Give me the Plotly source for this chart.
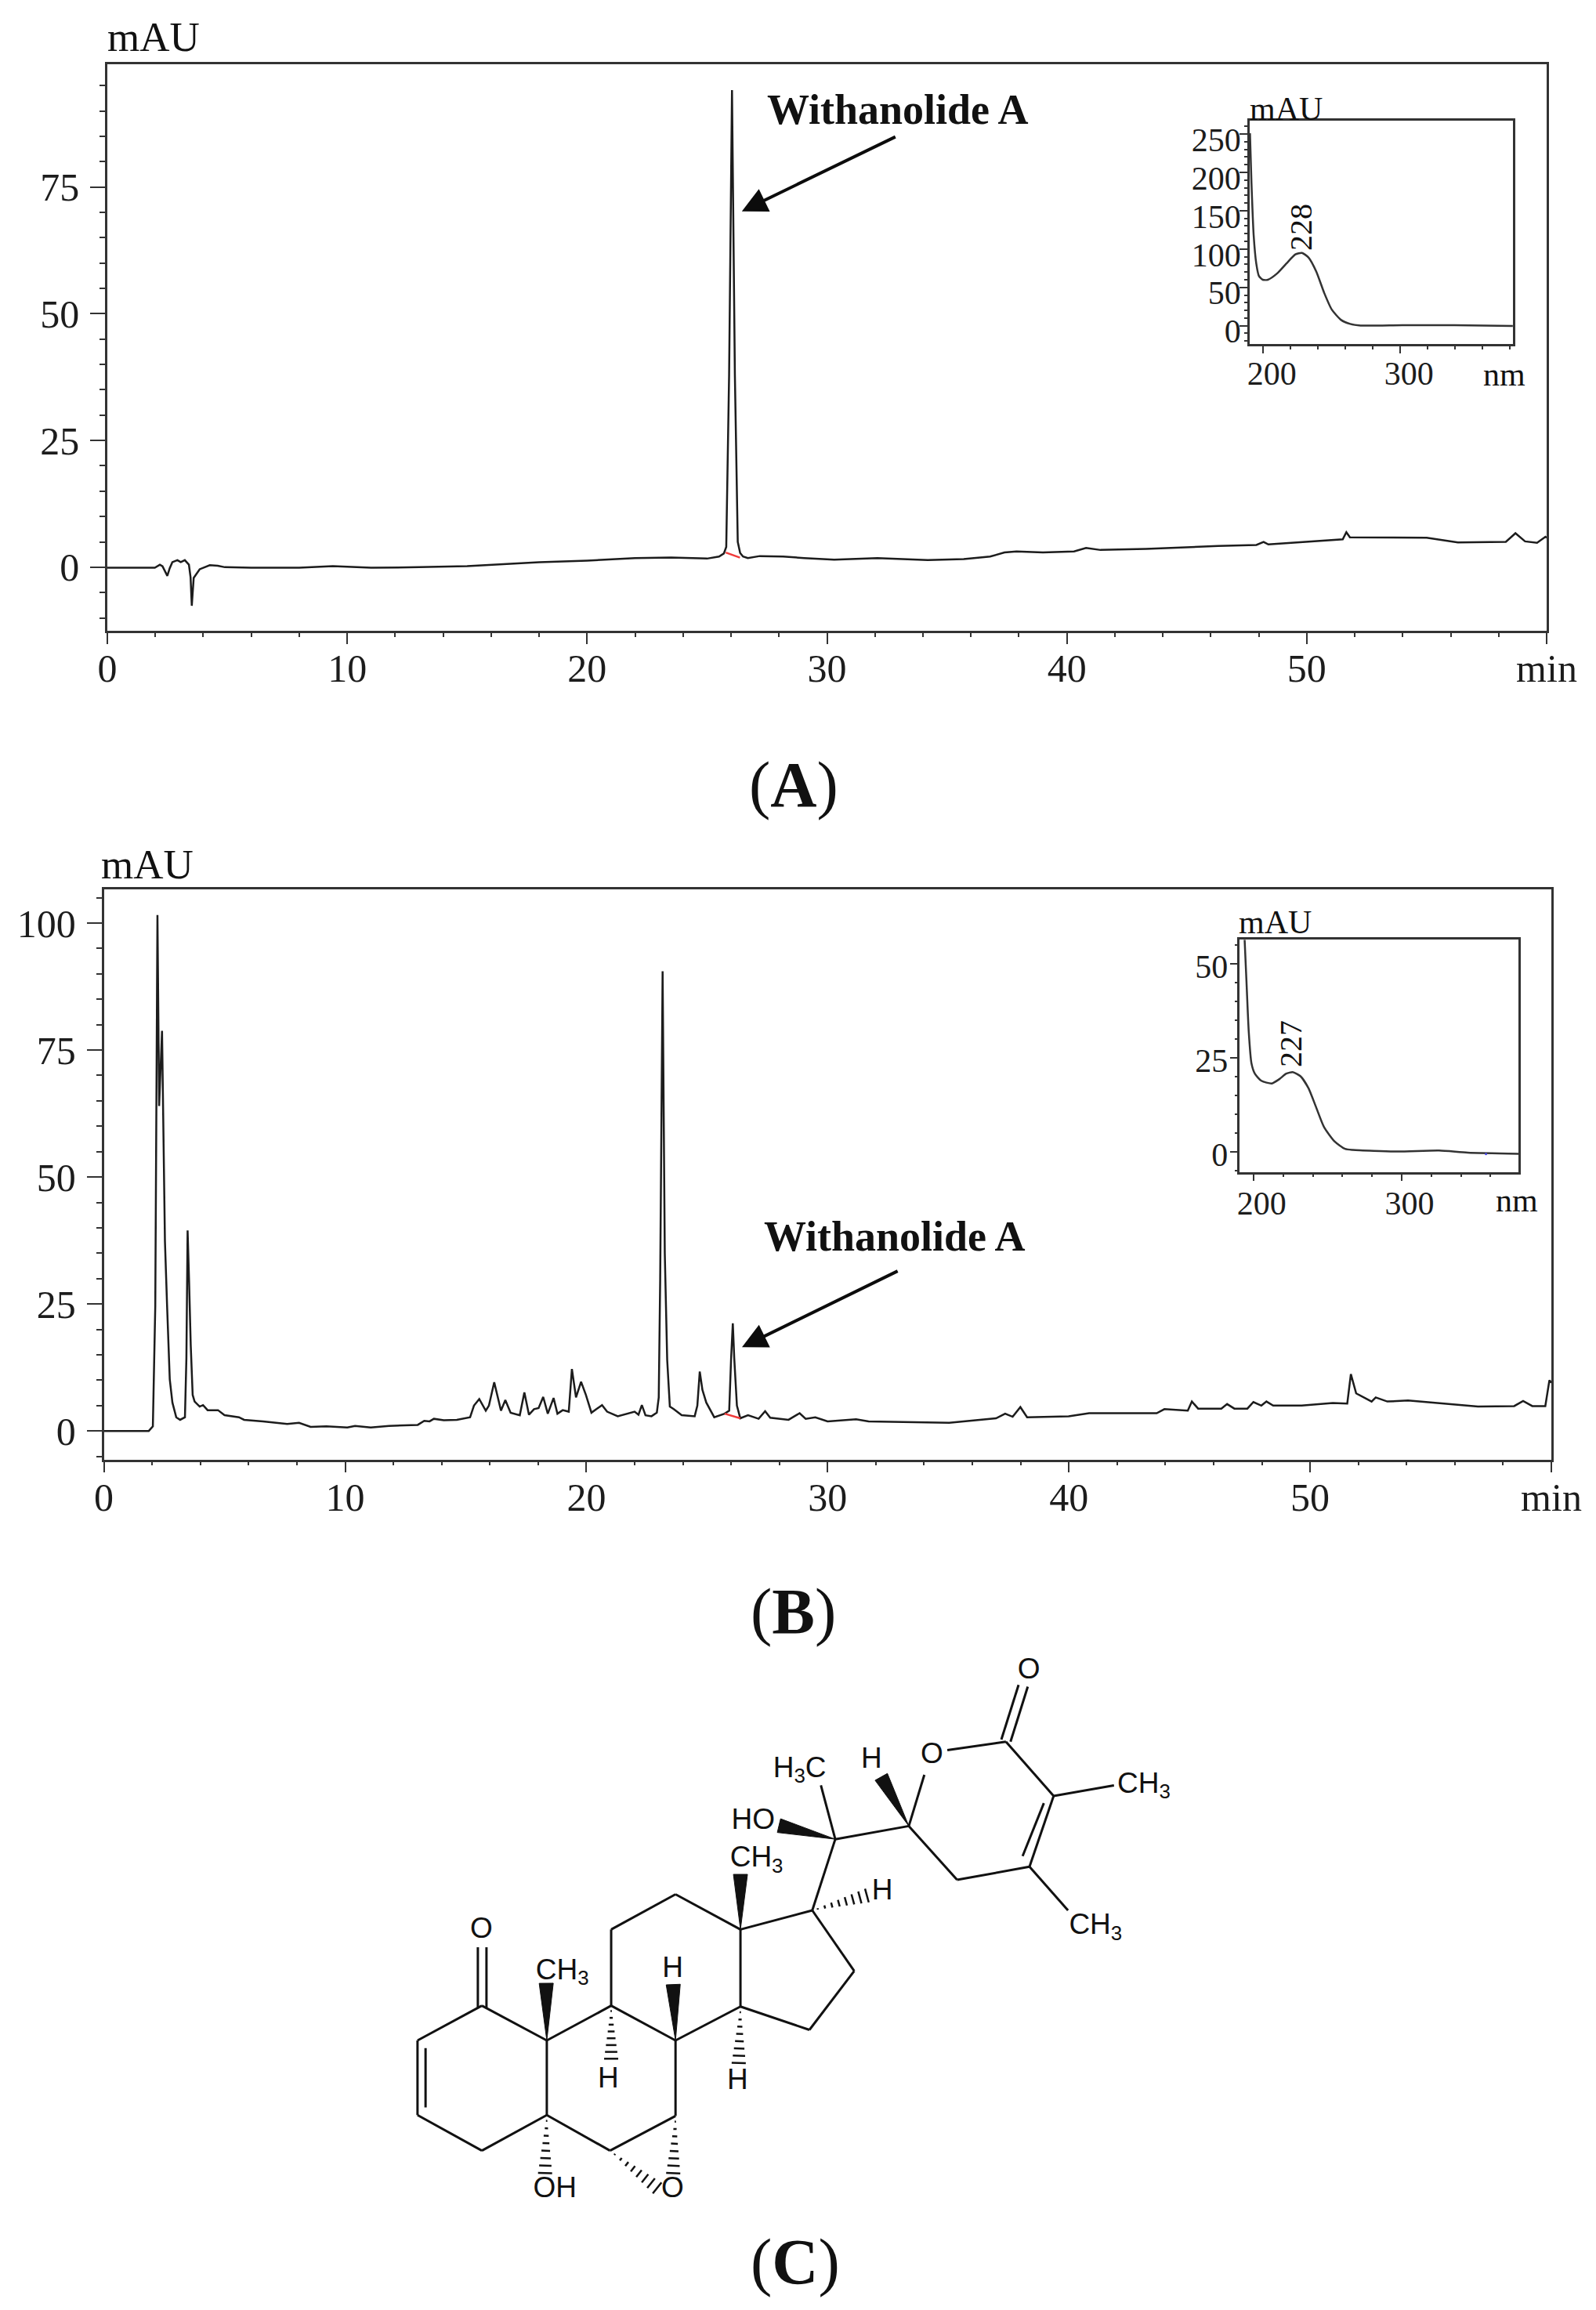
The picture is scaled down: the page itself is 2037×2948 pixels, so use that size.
import numpy as np
import plotly.graph_objects as go

W, H = 2037, 2948

# chromatogram A (standard), min / mAU
time_a = [0, 1.98, 2.19, 2.3, 2.5, 2.6, 2.71, 2.92, 3.06, 3.23, 3.4, 3.47, 3.52, 3.6, 3.85, 4.27, 4.6, 4.9,
          6, 8, 9.4, 11, 13, 15, 18, 20, 22, 23.5, 25, 25.5, 25.7, 25.8, 25.92, 26.04, 26.16, 26.28, 26.38, 26.5,
          26.7, 27.2, 28.17, 29.05, 30.3, 32.1, 34.2, 35.7, 36.8, 37.4, 37.9, 39, 40.3, 40.8, 41.4, 43.3,
          46.3, 47.9, 48.2, 48.4, 51.5, 51.65, 51.8, 53.9, 55, 56.3, 58.3, 58.7, 59.1, 59.6, 59.95, 60]
mau_a = [-0.1, -0.1, 0.5, 0.2, -1.7, -0.2, 1, 1.4, 1, 1.4, 0.5, -2, -7.6, -2.1, -0.4, 0.4, 0.3, 0,
         -0.1, -0.1, 0.2, -0.1, 0, 0.2, 1, 1.3, 1.8, 1.9, 1.7, 2.1, 2.7, 4, 38, 94.1, 38, 5, 2.8, 2.1,
         1.8, 2.2, 2.1, 1.8, 1.5, 1.8, 1.4, 1.6, 2.1, 2.9, 3.1, 2.9, 3.1, 3.8, 3.4, 3.6,
         4.2, 4.4, 5, 4.5, 5.5, 6.9, 5.9, 5.9, 5.8, 4.9, 5, 6.7, 5.1, 4.8, 6, 5.8]

# chromatogram B (extract)
time_b = [0, 1.86, 2.03, 2.13, 2.22, 2.29, 2.41, 2.53, 2.62, 2.73, 2.84, 3.0, 3.16, 3.36, 3.42, 3.47, 3.53, 3.6,
          3.68, 3.76, 3.97, 4.11, 4.3, 4.73, 5.0, 5.6, 5.81, 6.6, 7.6, 8.09, 8.57, 9.22, 10.09, 10.41, 11.06,
          11.82, 13.01, 13.28, 13.5, 13.68, 14.09, 14.63, 15.18, 15.34, 15.56, 15.83, 15.96, 16.18, 16.46,
          16.64, 16.86, 17.24, 17.43, 17.62, 17.83, 18.02, 18.21, 18.4, 18.64, 18.8, 19.02, 19.27, 19.4,
          19.57, 19.78, 19.98, 20.21, 20.65, 20.86, 21.3, 22, 22.16, 22.3, 22.45, 22.7, 22.92, 23.0, 23.06,
          23.16, 23.25, 23.35, 23.46, 23.62, 23.95, 24.49, 24.6, 24.7, 24.81, 24.97, 25.3, 25.73, 25.92, 26.0,
          26.07, 26.13, 26.24, 26.38, 26.7, 27.14, 27.41, 27.62, 28.38, 28.84, 29.09, 29.49, 30, 31.18, 31.7,
          35.04, 36.98, 37.36, 37.67, 37.99, 38.27, 39.99, 40.84, 41.92, 43.64, 43.96, 44.93, 45.1, 45.36,
          46.32, 46.56, 46.86, 47.4, 47.65, 47.98, 48.19, 48.47, 49.65, 50.94, 51.54, 51.69, 51.91, 52.55,
          52.72, 53.2, 54.06, 55.67, 56.96, 58.46, 58.83, 59.21, 59.75, 59.92, 60]
mau_b = [0, 0, 0.9, 24.6, 101.6, 64, 78.8, 37.4, 24.6, 10.2, 5.6, 2.7, 2.2, 2.7, 14.3, 39.5, 29.7, 16.9,
         7.1, 5.8, 4.8, 5.1, 4.1, 4.1, 3.1, 2.7, 2.2, 1.9, 1.4, 1.6, 0.8, 0.9, 0.7, 1.0, 0.7,
         1.0, 1.2, 2, 1.9, 2.4, 2.1, 2.2, 2.7, 5, 6.3, 4, 5, 9.6, 4,
         6.1, 3.6, 3.1, 7.6, 3.2, 4.3, 4.5, 6.7, 3.4, 6.5, 3.4, 4.1, 3.8, 12.2,
         6.6, 9.7, 7.1, 3.6, 5.1, 3.8, 2.9, 3.8, 3.2, 5.1, 3.1, 2.9, 3.6, 6.6, 30,
         90.5, 35, 14, 4.8, 4.3, 3.1, 2.9, 5, 11.7, 8.1, 5.6, 2.7, 3.4, 4, 14.3,
         21.2, 14.3, 5, 2.5, 3.1, 2.4, 3.9, 2.6, 2.2, 3.5, 2.4, 2.7, 1.9, 2.3, 1.9,
         1.6, 2.5, 3.4, 2.8, 4.7, 2.7, 2.9, 3.5, 3.5, 3.5, 4.3, 4, 5.8, 4.4,
         4.4, 5.3, 4.4, 4.4, 5.7, 5, 5.8, 5, 5, 5.5, 5.4, 11.2, 7.4, 5.8,
         6.6, 5.8, 6, 5.3, 4.8, 4.9, 5.9, 4.9, 4.9, 10, 9.5]

# integration baselines under the withanolide peak
base_time_a = [25.78, 26.37]
base_mau_a = [2.9, 1.9]
base_time_b = [25.73, 26.38]
base_mau_b = [3.4, 2.5]

# UV spectra
nm_a = [190.3, 191.4, 193, 194.9, 196.8, 199.6, 203.4, 210, 216.8, 223.4, 228.2, 233, 238.7, 244.4, 250,
        256.8, 263.4, 271, 301.5, 339.6, 382]
uv_a = [251, 186, 118, 81, 65, 60, 60, 68, 81, 93, 95, 89, 70.5, 43, 21, 7.5, 2.4, 0.3, 0.7, 0.7, -0.3]
nm_b = [193.8, 195, 196.6, 198.4, 200.7, 205.1, 212.2, 217.5, 221.9, 226.3, 231.6, 236.9, 242.2, 247.5,
        254.6, 261.7, 267, 297, 325.3, 344.7, 379]
uv_b = [56.4, 45.8, 31.9, 23.6, 20.8, 18.9, 18.2, 19.4, 20.8, 21.2, 20.1, 17, 11.8, 6.6, 2.8, 0.8, 0.5,
        0.1, 0.35, -0.2, -0.5]
dot_nm_b = [357]
dot_uv_b = [-0.55]

time_ticks = [0, 10, 20, 30, 40, 50, 60]
time_labels = ["0", "10", "20", "30", "40", "50", "min"]

# structure of withanolide A, positions in picture units of the drawing
atom_x = [225, 113, 113, 225, 338, 338, 450, 562, 562, 448, 450, 562, 675, 675, 800, 873, 795, 840, 968, 1137,
          1220, 1178, 1052, 815, 995, 1035, 1325, 1245, 127, 127, 218, 218, 233, 233, 1129, 1159, 1145, 1175,
          1203, 1166]
atom_y = [850, 932, 1108, 1192, 1108, 932, 850, 932, 1110, 1192, 670, 587, 670, 852, 625, 768, 907, 457, 426,
          227, 355, 522, 553, 330, 305, 247, 330, 625, 950, 1090, 855, 712, 855, 712, 222, 93, 227, 97, 372, 497]
bonds = [(0, 1), (1, 2), (2, 3), (3, 4), (4, 5), (5, 0), (5, 6), (6, 7), (7, 8), (8, 9), (9, 4), (6, 10),
         (10, 11), (11, 12), (12, 13), (13, 7), (12, 14), (14, 15), (15, 16), (16, 13), (14, 17), (17, 18),
         (17, 23), (18, 24), (25, 19), (19, 20), (20, 21), (21, 22), (22, 18), (20, 26), (21, 27), (28, 29),
         (30, 31), (32, 33), (34, 35), (36, 37), (38, 39)]
# stereo bonds: start atom, end x, end y
solid_wedges = [(5, 337, 797), (7, 558, 800), (12, 675, 540), (18, 920, 310), (17, 742, 425)]
hash_wedges = [(6, 450, 975), (13, 672, 985), (14, 895, 590), (4, 335, 1245), (8, 558, 1245), (9, 530, 1280)]
atom_labels = ["O", "CH<sub>3</sub>", "H", "CH<sub>3</sub>", "H", "H", "H", "OH", "O", "HO",
               "H<sub>3</sub>C", "H", "O", "O", "CH<sub>3</sub>", "CH<sub>3</sub>"]
label_x = [224, 365, 557, 703, 922, 445, 670, 352, 557, 697, 778, 903, 1008, 1177, 1377, 1293]
label_y = [672, 770, 765, 505, 582, 1025, 1030, 1285, 1285, 415, 293, 272, 260, 60, 330, 663]

SERIF = "Liberation Serif"
SANS = "Liberation Sans"
INK = "#1c1c1c"
AXIS = "#333333"
MOL_SX, MOL_SY = 1.3635, 1.849  # drawing units per pixel


def dom_x(a, b):
    return [a / W, b / W]


def dom_y(top, bottom):
    return [1 - bottom / H, 1 - top / H]


def axis_style(size, major, minor, width=2.5, **kw):
    return dict(showgrid=False, zeroline=False, showline=True, mirror=True, linecolor=AXIS, linewidth=width,
                automargin=False, ticks="outside", ticklen=major, tickwidth=2, tickcolor=AXIS,
                tickfont=dict(family=SERIF, size=size, color=INK),
                minor=dict(ticks="outside", ticklen=minor, tickwidth=2, tickcolor=AXIS, showgrid=False), **kw)


def page_text(text, px, py, size, bold=False, angle=0, family=SERIF):
    return dict(text=f"<b>{text}</b>" if bold else text, x=px / W, y=1 - py / H, xref="paper", yref="paper",
                showarrow=False, xanchor="center", yanchor="middle", textangle=angle,
                font=dict(family=family, size=size, color="#111111"))


fig = go.Figure()

# main traces
fig.add_trace(go.Scatter(x=time_a, y=mau_a, mode="lines", line=dict(color=INK, width=2.5), xaxis="x", yaxis="y"))
fig.add_trace(go.Scatter(x=base_time_a, y=base_mau_a, mode="lines", line=dict(color="#f03a3a", width=2.5),
                         xaxis="x", yaxis="y"))
fig.add_trace(go.Scatter(x=nm_a, y=uv_a, mode="lines", line=dict(color="#333333", width=2.5, shape="spline", smoothing=0.6),
                         xaxis="x3", yaxis="y3"))
fig.add_trace(go.Scatter(x=time_b, y=mau_b, mode="lines", line=dict(color=INK, width=2.5), xaxis="x2", yaxis="y2"))
fig.add_trace(go.Scatter(x=base_time_b, y=base_mau_b, mode="lines", line=dict(color="#f03a3a", width=2.5),
                         xaxis="x2", yaxis="y2"))
fig.add_trace(go.Scatter(x=nm_b, y=uv_b, mode="lines", line=dict(color="#333333", width=2.5, shape="spline", smoothing=0.6),
                         xaxis="x4", yaxis="y4"))
fig.add_trace(go.Scatter(x=dot_nm_b, y=dot_uv_b, mode="markers", marker=dict(color="#4a4ae8", size=3),
                         xaxis="x4", yaxis="y4"))

# molecule: plain bonds
bx, by = [], []
for i, j in bonds:
    bx += [atom_x[i], atom_x[j], None]
    by += [atom_y[i], atom_y[j], None]
fig.add_trace(go.Scatter(x=bx, y=by, mode="lines", line=dict(color="#111111", width=3), xaxis="x5", yaxis="y5"))


def across(x0, y0, x1, y1):
    # unit normal of a bond measured in pixels, given back in drawing units
    dx, dy = (x1 - x0) / MOL_SX, (y1 - y0) / MOL_SY
    n = np.hypot(dx, dy)
    return -dy / n * MOL_SX, dx / n * MOL_SY


for i, ex, ey in solid_wedges:
    x0, y0 = atom_x[i], atom_y[i]
    nx, ny = across(x0, y0, ex, ey)
    fig.add_trace(go.Scatter(x=[x0, ex + 9 * nx, ex - 9 * nx, x0], y=[y0, ey + 9 * ny, ey - 9 * ny, y0],
                             mode="lines", fill="toself", fillcolor="#111111", line=dict(color="#111111", width=1),
                             xaxis="x5", yaxis="y5"))

hx, hy = [], []
for i, ex, ey in hash_wedges:
    x0, y0 = atom_x[i], atom_y[i]
    nx, ny = across(x0, y0, ex, ey)
    for f in np.linspace(0.1, 1, 8):
        cx, cy, half = x0 + (ex - x0) * f, y0 + (ey - y0) * f, 9 * f
        hx += [cx - half * nx, cx + half * nx, None]
        hy += [cy - half * ny, cy + half * ny, None]
fig.add_trace(go.Scatter(x=hx, y=hy, mode="lines", line=dict(color="#111111", width=2.5), xaxis="x5", yaxis="y5"))

fig.add_trace(go.Scatter(x=label_x, y=label_y, mode="text", text=atom_labels, textposition="middle center",
                         textfont=dict(family=SANS, size=37, color="#111111"), cliponaxis=False,
                         xaxis="x5", yaxis="y5"))

annotations = [
    page_text("mAU", 196, 47, 53),
    page_text("mAU", 188, 1103, 53),
    page_text("mAU", 1641, 139, 42),
    page_text("mAU", 1627, 1177, 42),
    page_text("nm", 1920, 478, 42),
    page_text("nm", 1936, 1532, 42),
    page_text("228", 1660, 290, 40, angle=-90),
    page_text("227", 1647, 1332, 40, angle=-90),
    page_text("(<b>A</b>)", 1013, 1001, 82),
    page_text("(<b>B</b>)", 1012, 2056, 82),
    page_text("(<b>C</b>)", 1015, 2886, 82),
    page_text("Withanolide A", 1146, 140, 54, bold=True),
    page_text("Withanolide A", 1142, 1578, 54, bold=True),
    dict(x=26.45, y=70.2, ax=32.9, ay=85, xref="x", yref="y", axref="x", ayref="y", text="", showarrow=True,
         arrowhead=2, arrowsize=1.6, arrowwidth=4, arrowcolor="#0c0c0c", standoff=0),
    dict(x=26.45, y=16.5, ax=32.95, ay=31.6, xref="x2", yref="y2", axref="x2", ayref="y2", text="", showarrow=True,
         arrowhead=2, arrowsize=1.6, arrowwidth=4, arrowcolor="#0c0c0c", standoff=0),
]

fig.update_layout(
    width=W, height=H, autosize=False, showlegend=False, hovermode=False,
    paper_bgcolor="white", plot_bgcolor="white", margin=dict(l=0, r=0, t=0, b=0),
    annotations=annotations,
    xaxis=dict(domain=dom_x(137, 1974), range=[0, 60], anchor="y", tickvals=time_ticks, ticktext=time_labels,
               ticklabelstandoff=-12, **axis_style(50, 14, 5)),
    yaxis=dict(domain=dom_y(82, 805.4), range=[-12.6, 99.2], anchor="x", dtick=25, tick0=0,
               ticklabelstandoff=4, **axis_style(50, 19, 7)),
    xaxis2=dict(domain=dom_x(132.6, 1980), range=[0, 60], anchor="y2", tickvals=time_ticks, ticktext=time_labels,
                ticklabelstandoff=-11, **axis_style(50, 14, 5)),
    yaxis2=dict(domain=dom_y(1134.6, 1862.5), range=[-5.6, 106.7], anchor="x2", dtick=25, tick0=0,
                ticklabelstandoff=4, **axis_style(50, 19, 7)),
    xaxis3=dict(domain=dom_x(1595, 1931), range=[190.1, 382.1], anchor="y3", tickvals=[200, 300], ticklabelshift=11,
                ticklabelstandoff=-10, **axis_style(42, 9, 4)),
    yaxis3=dict(domain=dom_y(154, 439), range=[-23.8, 267.4], anchor="x3", dtick=50, tick0=0, ticklabelshift=7,
                ticklabelstandoff=-10, **axis_style(42, 10, 4)),
    xaxis4=dict(domain=dom_x(1582.3, 1938.3), range=[190.5, 379.1], anchor="y4", tickvals=[200, 300],
                ticklabelshift=10, ticklabelstandoff=-8, **axis_style(42, 9, 4)),
    yaxis4=dict(domain=dom_y(1199.3, 1495.7), range=[-5.35, 56.4], anchor="x4", dtick=25, tick0=0, ticklabelshift=3,
                ticklabelstandoff=-6, **axis_style(42, 10, 4)),
    xaxis5=dict(domain=dom_x(450, 1600), range=[0, 1568], anchor="y5", visible=False),
    yaxis5=dict(domain=dom_y(2100, 2948), range=[1568, 0], anchor="x5", visible=False),
)

# minor tick steps
fig.update_xaxes(minor_dtick=2, minor_tick0=0, selector=dict(anchor="y"))
fig.update_xaxes(minor_dtick=2, minor_tick0=0, selector=dict(anchor="y2"))
fig.update_yaxes(minor_dtick=5, minor_tick0=0, selector=dict(anchor="x"))
fig.update_yaxes(minor_dtick=5, minor_tick0=0, selector=dict(anchor="x2"))
fig.update_xaxes(minor_dtick=20, minor_tick0=200, selector=dict(anchor="y3"))
fig.update_xaxes(minor_dtick=20, minor_tick0=200, selector=dict(anchor="y4"))
fig.update_yaxes(minor_dtick=10, minor_tick0=0, selector=dict(anchor="x3"))
fig.update_yaxes(minor_dtick=5, minor_tick0=0, selector=dict(anchor="x4"))

fig.write_html("out.html", post_script="document.body.style.margin='0';",
               config=dict(displayModeBar=False))
